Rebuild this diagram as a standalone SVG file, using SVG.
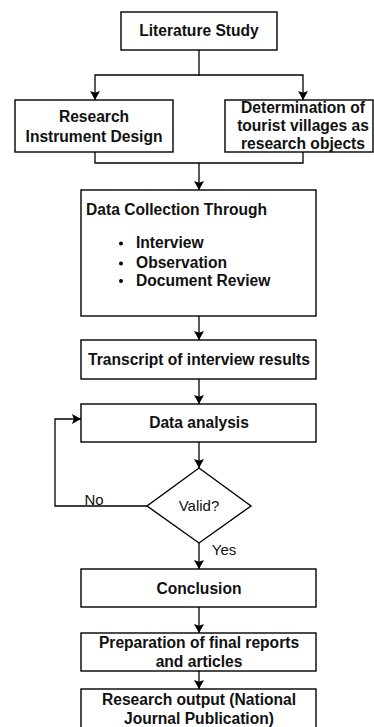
<svg xmlns="http://www.w3.org/2000/svg" width="374" height="727" viewBox="0 0 374 727">
<defs>
<marker id="arr" viewBox="0 0 10 10" refX="10" refY="5" markerWidth="9" markerHeight="10" preserveAspectRatio="none" markerUnits="userSpaceOnUse" orient="auto">
<path d="M0,0 L10,5 L0,10 L2,5 Z" fill="#000"/>
</marker>
</defs>
<style>
.box{fill:#fff;stroke:#000;stroke-width:1.4}
.t{font-family:"Liberation Sans",Arial,sans-serif;font-size:15.6px;font-weight:bold;fill:#111;text-anchor:middle}
.n{font-family:"Liberation Sans",Arial,sans-serif;font-size:15px;fill:#111;text-anchor:middle}
.l{font-family:"Liberation Sans",Arial,sans-serif;font-size:15.6px;font-weight:bold;fill:#111}
.c{fill:none;stroke:#000;stroke-width:1.3}
</style>
<rect width="374" height="727" fill="#fff"/>
<g id="connectors">
<path class="c" d="M199,50 V75 H95 V100" marker-end="url(#arr)"/>
<path class="c" d="M199,75 H303 V100" marker-end="url(#arr)"/>
<path class="c" d="M95,152 V163 H303 V152"/>
<path class="c" d="M199,163 V190" marker-end="url(#arr)"/>
<path class="c" d="M199,316 V340" marker-end="url(#arr)"/>
<path class="c" d="M199,379 V404" marker-end="url(#arr)"/>
<path class="c" d="M199,442 V468" marker-end="url(#arr)"/>
<path class="c" d="M147,506 H55 V419 H81" marker-end="url(#arr)"/>
<path class="c" d="M199,543 V569" marker-end="url(#arr)"/>
<path class="c" d="M199,607 V633" marker-end="url(#arr)"/>
<path class="c" d="M199,671 V689" marker-end="url(#arr)"/>
<text class="n" x="94" y="505">No</text>
<text class="n" x="224" y="555">Yes</text>
</g>
<g id="literature">
<rect class="box" x="121" y="12" width="156" height="38"/>
<text class="t" x="199" y="36">Literature Study</text>
</g>
<g id="instrument">
<rect class="box" x="15" y="100" width="158" height="52"/>
<text class="t" x="94" y="122">Research</text>
<text class="t" x="94" y="141.5">Instrument Design</text>
</g>
<g id="determination">
<rect class="box" x="225" y="100" width="148" height="52"/>
<text class="t" x="303" y="112.5">Determination of</text>
<text class="t" x="303" y="130.5">tourist villages as</text>
<text class="t" x="303" y="148.5">research objects</text>
</g>
<g id="collection">
<rect class="box" x="81" y="190" width="235" height="126"/>
<text class="l" x="86" y="215">Data Collection Through</text>
<circle cx="121" cy="243.5" r="2"/>
<circle cx="121" cy="263.5" r="2"/>
<circle cx="121" cy="281" r="2"/>
<text class="l" x="136" y="248">Interview</text>
<text class="l" x="136" y="268">Observation</text>
<text class="l" x="136" y="285.6">Document Review</text>
</g>
<g id="transcript">
<rect class="box" x="81" y="340" width="235" height="39"/>
<text class="t" x="199" y="364.5">Transcript of interview results</text>
</g>
<g id="analysis">
<rect class="box" x="81" y="404" width="235" height="38"/>
<text class="t" x="199" y="427.5">Data analysis</text>
</g>
<g id="valid">
<polygon class="box" points="199,468 251,506 199,543 147,506"/>
<text class="n" x="199" y="511">Valid?</text>
</g>
<g id="conclusion">
<rect class="box" x="81" y="569" width="235" height="38"/>
<text class="t" x="199" y="594">Conclusion</text>
</g>
<g id="preparation">
<rect class="box" x="81" y="633" width="235" height="38"/>
<text class="t" x="199" y="648">Preparation of final reports</text>
<text class="t" x="199" y="666.5">and articles</text>
</g>
<g id="output">
<rect class="box" x="81" y="689" width="235" height="45"/>
<text class="t" x="199" y="705">Research output (National</text>
<text class="t" x="199" y="724">Journal Publication)</text>
</g>
</svg>
